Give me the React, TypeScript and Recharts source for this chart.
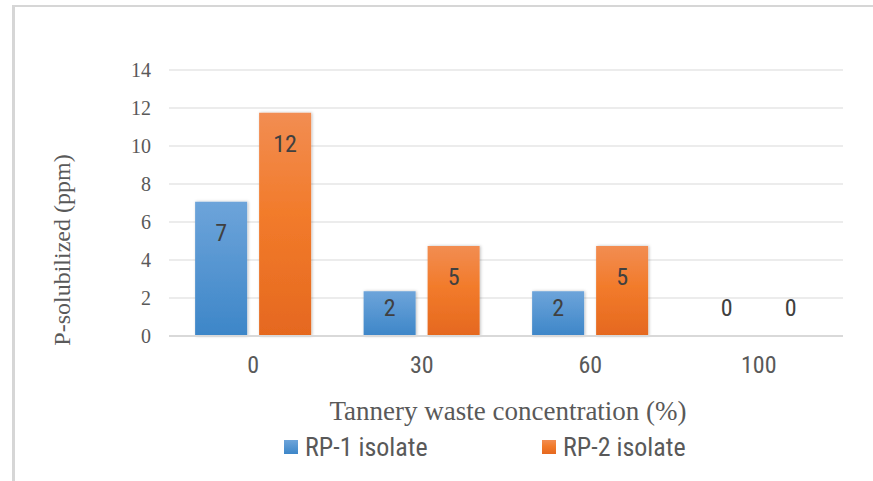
import { BarChart, Bar, XAxis, YAxis, CartesianGrid, Legend, LabelList, Label } from 'recharts';

// P solubilized by two isolates at increasing tannery waste concentrations
const categories = ['0', '30', '60', '100'];
const rp1Values = [7.07, 2.35, 2.35, 0];
const rp2Values = [11.75, 4.74, 4.74, 0];
const yTicks = [0, 2, 4, 6, 8, 10, 12, 14];
const seriesNames = ['RP-1 isolate', 'RP-2 isolate'];

const data = categories.map((c, i) => ({ conc: c, rp1: rp1Values[i], rp2: rp2Values[i] }));

const NARROW = "'Liberation Sans Narrow', 'Arial Narrow', 'Roboto Condensed', 'DejaVu Sans Condensed', sans-serif";
const SERIF = "'Liberation Serif', 'Times New Roman', serif";
const GRID = '#d9d9d9';

// value label sits near the bar top, but never lower than a fixed lift above the base
function BarValue(props: any) {
  const { x, y, width, height, value } = props;
  const top = Number(y);
  const h = Number(height) || 0;
  const cy = Math.min(top + 31, top + h - 28);
  return (
    <text
      x={Number(x) + Number(width) / 2}
      y={cy}
      textAnchor="middle"
      dominantBaseline="central"
      fontFamily={NARROW}
      fontSize={24}
      fill="#404040"
    >
      {Math.round(Number(value))}
    </text>
  );
}

function LegendRow({ payload }: any) {
  return (
    <div style={{ display: 'flex', fontFamily: NARROW, fontSize: 26, color: '#595959' }}>
      {(payload || []).map((p: any) => (
        <div key={p.value} style={{ display: 'flex', alignItems: 'center', width: 258 }}>
          <svg width={14} height={14} style={{ marginRight: 7 }}>
            <rect width={14} height={14} fill={p.color} />
          </svg>
          <span>{p.value}</span>
        </div>
      ))}
    </div>
  );
}

function YTitle({ viewBox }: any) {
  const cx = viewBox.x + viewBox.width - 107;
  const cy = viewBox.y + viewBox.height / 2 + 47;
  return (
    <text
      x={cx}
      y={cy}
      transform={`rotate(-90 ${cx} ${cy})`}
      textAnchor="middle"
      dominantBaseline="central"
      fontFamily={SERIF}
      fontSize={24}
      fill="#595959"
    >
      P-solubilized (ppm)
    </text>
  );
}

function XTitle({ viewBox }: any) {
  return (
    <text
      x={viewBox.x + viewBox.width / 2 + 2}
      y={viewBox.y + 75}
      textAnchor="middle"
      dominantBaseline="central"
      fontFamily={SERIF}
      fontSize={27}
      fill="#595959"
    >
      Tannery waste concentration (%)
    </text>
  );
}

export default function App() {
  return (
    <div style={{ position: 'relative', width: 873, height: 481, overflow: 'hidden', background: '#fff' }}>
      <style>{'body{margin:0}'}</style>
      <div
        style={{
          position: 'absolute',
          left: 12,
          top: 5,
          width: 900,
          height: 500,
          borderLeft: '3px solid #d6d6d6',
          borderTop: '2px solid #d6d6d6',
        }}
      />
      <BarChart
        width={873}
        height={481}
        data={data}
        margin={{ top: 70, right: 30, bottom: 105, left: 109 }}
        barCategoryGap="15.5%"
        barGap={12}
        style={{ position: 'absolute', left: 0, top: 0 }}
      >
        <defs>
          <linearGradient id="gradBlue" x1="0" y1="0" x2="0" y2="1">
            <stop offset="0%" stopColor="#6da4da" />
            <stop offset="100%" stopColor="#3d86c8" />
          </linearGradient>
          <linearGradient id="gradOrange" x1="0" y1="0" x2="0" y2="1">
            <stop offset="0%" stopColor="#f28d52" />
            <stop offset="45%" stopColor="#f27b2b" />
            <stop offset="100%" stopColor="#e5681f" />
          </linearGradient>
          <filter id="barShadow" x="-20%" y="-20%" width="140%" height="140%">
            <feDropShadow dx="1" dy="0" stdDeviation="1.5" floodColor="#000" floodOpacity="0.25" />
          </filter>
        </defs>
        <CartesianGrid vertical={false} stroke={GRID} strokeWidth={1} />
        <XAxis
          dataKey="conc"
          height={40}
          axisLine={{ stroke: GRID, strokeWidth: 2 }}
          tickLine={false}
          tickSize={0}
          tickMargin={20}
          tick={{ fontFamily: NARROW, fontSize: 24, fill: '#595959' }}
        >
          <Label content={<XTitle />} />
        </XAxis>
        <YAxis
          width={60}
          domain={[0, 14]}
          ticks={yTicks}
          axisLine={false}
          tickLine={false}
          tickSize={0}
          tickMargin={18}
          tick={{ fontFamily: SERIF, fontSize: 20, fill: '#595959' }}
        >
          <Label content={<YTitle />} />
        </YAxis>
        <Legend
          layout="horizontal"
          verticalAlign="middle"
          align="center"
          wrapperStyle={{ left: 284, top: 432, width: 520 }}
          content={<LegendRow />}
        />
        <Bar
          dataKey="rp1"
          name={seriesNames[0]}
          fill="url(#gradBlue)"
          filter="url(#barShadow)"
          minPointSize={0.01}
          isAnimationActive={false}
        >
          <LabelList dataKey="rp1" content={<BarValue />} />
        </Bar>
        <Bar
          dataKey="rp2"
          name={seriesNames[1]}
          fill="url(#gradOrange)"
          filter="url(#barShadow)"
          minPointSize={0.01}
          isAnimationActive={false}
        >
          <LabelList dataKey="rp2" content={<BarValue />} />
        </Bar>
      </BarChart>
    </div>
  );
}
